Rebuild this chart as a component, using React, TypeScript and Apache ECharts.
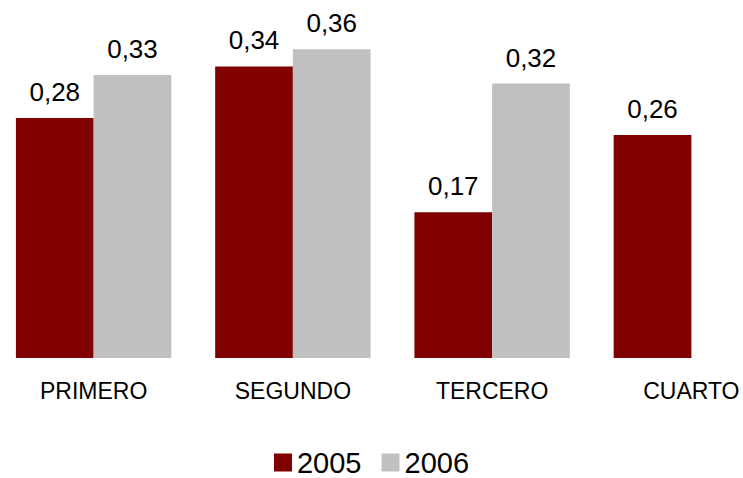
import React, { useEffect, useRef } from "react";
import * as echarts from "echarts";

const categories = ["PRIMERO", "SEGUNDO", "TERCERO", "CUARTO"];
const seriesNames = ["2005", "2006"];
const values2005 = [0.28, 0.34, 0.17, 0.26];
const values2006: (number | null)[] = [0.33, 0.36, 0.32, null];
const colors = ["#800000", "#C0C0C0"];

const FONT = "'Liberation Sans', Arial, sans-serif";

export default function App() {
  const ref = useRef<HTMLDivElement>(null);
  useEffect(() => {
    if (!ref.current) return;
    const chart = echarts.init(ref.current, undefined, { renderer: "svg" });
    const labelCfg = {
      show: true,
      position: "top" as const,
      distance: 13,
      color: "#000",
      fontSize: 26,
      fontFamily: FONT,
      formatter: (p: any) => Number(p.value).toFixed(2).replace(".", ","),
    };
    chart.setOption({
      animation: false,
      backgroundColor: "#fff",
      textStyle: { fontFamily: FONT },
      grid: {
        left: -6,
        width: 797,
        top: 15,
        height: 343,
        containLabel: false,
        outerBoundsMode: "none",
      },
      legend: {
        data: seriesNames,
        bottom: 1,
        padding: 0,
        left: "center",
        itemWidth: 18,
        itemHeight: 18,
        itemGap: 20,
        icon: "rect",
        textStyle: { fontSize: 29, lineHeight: 26, color: "#000", fontFamily: FONT },
      },
      xAxis: {
        type: "category",
        data: categories,
        axisLine: { show: false },
        axisTick: { show: false },
        axisLabel: { fontSize: 23, color: "#000", margin: 21, fontFamily: FONT },
      },
      yAxis: {
        type: "value",
        min: 0,
        max: 0.4,
        show: false,
        splitLine: { show: false },
      },
      series: [
        {
          name: seriesNames[0],
          type: "bar",
          data: values2005,
          barGap: "0%",
          barCategoryGap: "22%",
          itemStyle: { color: colors[0] },
          label: labelCfg,
        },
        {
          name: seriesNames[1],
          type: "bar",
          data: values2006,
          barGap: "0%",
          barCategoryGap: "22%",
          itemStyle: { color: colors[1] },
          label: labelCfg,
        },
      ],
    });
    return () => chart.dispose();
  }, []);
  return (
    <div
      ref={ref}
      style={{ position: "absolute", left: 0, top: 0, width: 743, height: 478 }}
    />
  );
}
